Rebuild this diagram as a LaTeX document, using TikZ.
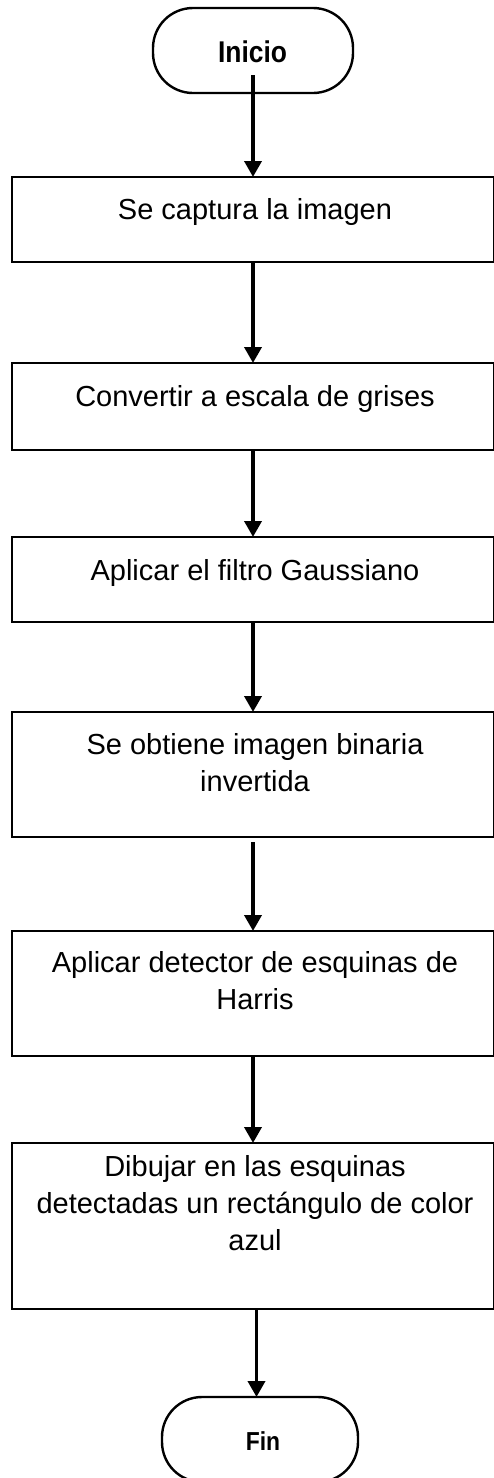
\documentclass[tikz,border=0pt]{standalone}
\usepackage{fontspec}
\setmainfont{Liberation Sans}
\newfontfamily\termfont[FakeStretch=0.88]{Liberation Sans Bold}
\usetikzlibrary{arrows.meta,calc}

\begin{document}
\begin{tikzpicture}[x=1pt,y=-1pt,
  stepbox/.style={draw=black,line width=2.8pt,minimum width=482pt,inner sep=0pt,outer sep=0pt},
  terminal/.style={draw=black,line width=2.4pt,rounded corners=40pt,inner sep=0pt,outer sep=0pt},
  steptext/.style={anchor=base,inner sep=0pt,align=center,font=\fontsize{29}{36.7}\selectfont},
  flow/.style={line width=3.6pt,-{Triangle[width=17pt,length=16pt]}}
]
\useasboundingbox (0,0) rectangle (493,1478);

% start and end terminals
\node[terminal,minimum width=200pt,minimum height=85pt] (inicio) at (253,50.5) {};
\node[anchor=base,inner sep=0pt,font=\termfont\fontsize{30}{30}\selectfont] (tinicio) at (252.5,62) {Inicio};
\node[terminal,minimum width=196pt,minimum height=85pt] (fin) at (260,1439.5) {};
\node[anchor=base,inner sep=0pt,font=\termfont\fontsize{26}{26}\selectfont] (tfin) at (263,1450) {Fin};

% process boxes
\node[stepbox,minimum height=85pt]  (b1) at (253,219.5) {};
\node[stepbox,minimum height=87pt]  (b2) at (253,406.5) {};
\node[stepbox,minimum height=85pt]  (b3) at (253,579.5) {};
\node[stepbox,minimum height=125pt] (b4) at (253,774.5) {};
\node[stepbox,minimum height=125pt] (b5) at (253,993.5) {};
\node[stepbox,minimum height=166pt] (b6) at (253,1226) {};

% box texts (base anchor sits on the last line)
\node[steptext] (t1) at (255,219) {Se captura la imagen};
\node[steptext] (t2) at (255,406) {Convertir a escala de grises};
\node[steptext] (t3) at (255,580) {Aplicar el filtro Gaussiano};
\node[steptext] (t4) at (255,791) {Se obtiene imagen binaria\\invertida};
\node[steptext] (t5) at (255,1009) {Aplicar detector de esquinas de\\Harris};
\node[steptext] (t6) at (255,1250) {Dibujar en las esquinas\\detectadas un rectángulo de color\\azul};

% connectors
\draw[flow] ($(inicio.south)+(0,-18)$) -- (b1.north);
\draw[flow] (b1.south) -- (b2.north);
\draw[flow] (b2.south) -- (b3.north);
\draw[flow] (b3.south) -- (b4.north);
\draw[flow] ($(b4.south)+(0,5)$) -- (b5.north);
\draw[flow] (b5.south) -- (b6.north);
\draw[flow] ($(b6.south)+(3.5,0)$) -- ($(fin.north)+(-3.5,0)$);
\end{tikzpicture}
\end{document}
